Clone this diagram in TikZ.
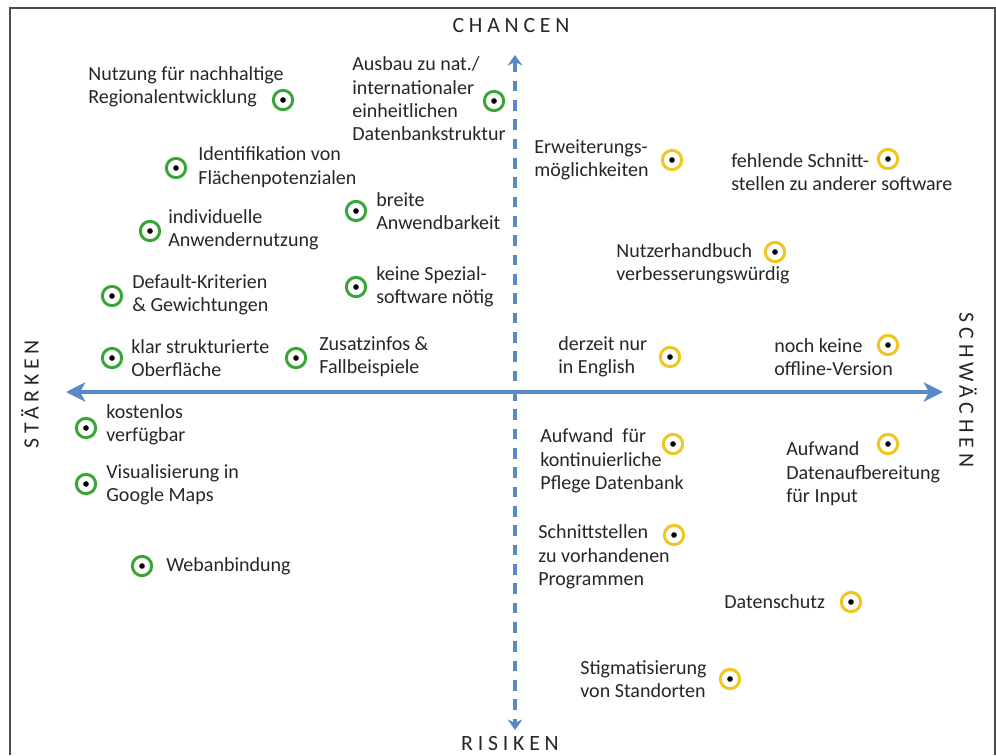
\documentclass[tikz,border=0pt]{standalone}
\usepackage{fontspec}
\setmainfont{Carlito}
\newfontfamily\quadfont[LetterSpace=22]{Carlito}
\usetikzlibrary{arrows.meta}
\definecolor{axisblue}{RGB}{88,138,200}
\definecolor{leafgreen}{RGB}{58,164,56}
\definecolor{signalyellow}{RGB}{240,198,30}
\colorlet{ink}{black!85}
\colorlet{frameink}{black!70}

\begin{document}
\begin{tikzpicture}[x=0.02cm, y=-0.02cm,
  txt/.style={anchor=west, align=left, inner sep=0pt, text=ink, font=\fontsize{11.4}{13.3}\selectfont},
  dotmark/.style={circle, draw=#1, line width=1.7pt, minimum size=11pt, inner sep=0pt, fill=white,
    path picture={\fill[black] (path picture bounding box.center) circle (1.6pt);}},
  goodmark/.style={dotmark=leafgreen},
  badmark/.style={dotmark=signalyellow},
  axislabel/.style={text=ink, inner sep=0pt, font=\fontsize{12.4}{14}\quadfont}]
  \useasboundingbox (0,0) rectangle (996,755);
\draw[frameink, line width=1.2pt] (10,755) -- (10,8) -- (995,8) -- (995,755);
\coordinate (north) at (515,55);
\coordinate (south) at (515,730);
\coordinate (west) at (66,392);
\coordinate (east) at (943,392);
\draw[axisblue, line width=2.2pt, dash pattern=on 6pt off 5pt,
  {Stealth[length=6pt, width=8.5pt, inset=2pt]}-{Stealth[length=6pt, width=8.5pt, inset=2pt]}] (north) -- (south);
\draw[axisblue, line width=2.3pt,
  {Stealth[length=11pt, width=11pt, inset=3pt]}-{Stealth[length=11pt, width=11pt, inset=3pt]}] (west) -- (east);
\node[axislabel] (chancen) at (511,25) {CHANCEN};
\node[axislabel] (risiken) at (510,743) {RISIKEN};
\node[axislabel, rotate=90] (staerken) at (30,394) {STÄRKEN};
\node[axislabel, rotate=-90] (schwaechen) at (968,390) {SCHWÄCHEN};
\node[txt] (s1) at (88,87) {Nutzung für nachhaltige\\Regionalentwicklung};
\node[goodmark] (m1) at (283,100) {};
\node[txt] (s2) at (352,99) {Ausbau zu nat./\\internationaler\\einheitlichen\\Datenbankstruktur};
\node[goodmark] (m2) at (494,101) {};
\node[txt] (s3) at (198,167) {Identifikation von\\Flächenpotenzialen};
\node[goodmark] (m3) at (176,168) {};
\node[txt] (s4) at (376,211) {breite\\Anwendbarkeit};
\node[goodmark] (m4) at (356,211) {};
\node[txt] (s5) at (168,230) {individuelle\\Anwendernutzung};
\node[goodmark] (m5) at (150,231) {};
\node[txt] (s6) at (132,295) {Default-Kriterien\\\& Gewichtungen};
\node[goodmark] (m6) at (112,296) {};
\node[txt] (s7) at (376,287) {keine Spezial-\\software nötig};
\node[goodmark] (m7) at (356,287) {};
\node[txt] (s8) at (131,358) {klar strukturierte\\Oberfläche};
\node[goodmark] (m8) at (112,358) {};
\node[txt] (s9) at (319,357) {Zusatzinfos \&\\Fallbeispiele};
\node[goodmark] (m9) at (296,358) {};
\node[txt] (s10) at (106,425) {kostenlos\\verfügbar};
\node[goodmark] (m10) at (86,428) {};
\node[txt] (s11) at (106,485) {Visualisierung in\\Google Maps};
\node[goodmark] (m11) at (86,484) {};
\node[txt] (s12) at (166,566) {Webanbindung};
\node[goodmark] (m12) at (142,566) {};
\node[txt] (w1) at (534,160) {Erweiterungs-\\möglichkeiten};
\node[badmark] (n1) at (672,160) {};
\node[txt] (w2) at (731,172) {fehlende Schnitt-\\stellen zu anderer software};
\node[badmark] (n2) at (888,159) {};
\node[txt] (w3) at (616,264) {Nutzerhandbuch\\verbesserungswürdig};
\node[badmark] (n3) at (775,252) {};
\node[txt] (w4) at (558,357) {derzeit nur\\in English};
\node[badmark] (n4) at (670,357) {};
\node[txt] (w5) at (774,357) {noch keine\\offline-Version};
\node[badmark] (n5) at (888,345) {};
\node[txt] (w6) at (540,461) {Aufwand\ \ für\\kontinuierliche\\Pflege Datenbank};
\node[badmark] (n6) at (673,444) {};
\node[txt] (w7) at (786,474) {Aufwand\\Datenaufbereitung\\für Input};
\node[badmark] (n7) at (888,444) {};
\node[txt] (w8) at (538,557) {Schnittstellen\\zu vorhandenen\\Programmen};
\node[badmark] (n8) at (674,535) {};
\node[txt] (w9) at (724,602) {Datenschutz};
\node[badmark] (n9) at (851,602) {};
\node[txt] (w10) at (580,679) {Stigmatisierung\\von Standorten};
\node[badmark] (n10) at (730,679) {};
\end{tikzpicture}
\end{document}
